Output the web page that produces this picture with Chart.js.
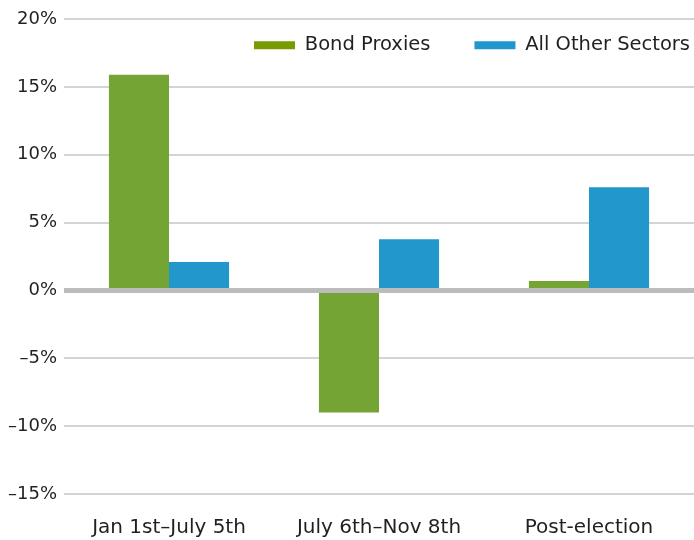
<!DOCTYPE html>
<html>
<head>
<meta charset="utf-8">
<script src="https://cdn.jsdelivr.net/npm/chart.js@4"></script>
<style>
  html, body { margin: 0; padding: 0; background: #fff; }
  #wrap { width: 694px; height: 540px; }
</style>
</head>
<body>
<div id="wrap"><canvas id="proxyChart" width="694" height="540"></canvas></div>
<script>
// Data
const periods = ['Jan 1st\u2013July 5th', 'July 6th\u2013Nov 8th', 'Post-election'];
const bondProxies = [15.9, -9.0, 0.7];
const allOtherSectors = [2.1, 3.77, 7.6];
const seriesNames = ['Bond Proxies', 'All Other Sectors'];
const yTicks = [-15, -10, -5, 0, 5, 10, 15, 20];

const barColors = ['#74a433', '#2197cc'];
const legendColors = ['#7a9a01', '#2196cc'];
const textColor = '#231f20';
const fontFamily = '"DejaVu Sans", sans-serif';

// legend sits inside the plot area, top right, without taking layout space
const legendInside = {
    id: 'legendInside',
    beforeLayout(chart) {
        const lg = chart.legend;
        if (lg && !lg._noHeight) {
            const fit = lg.fit.bind(lg);
            lg.fit = function () { fit(); this.height = 0; };
            lg._noHeight = true;
        }
    },
    afterLayout(chart) {
        const lg = chart.legend;
        lg.top = -8.5; lg.bottom = 70;
        lg.left += 40; lg.right += 40;
    }
};

// thick grey zero line drawn over the bars
const zeroLine = {
    id: 'zeroLine',
    afterDatasetsDraw(chart) {
        const y = chart.scales.y.getPixelForValue(0);
        const area = chart.chartArea;
        const ctx = chart.ctx;
        ctx.save();
        ctx.strokeStyle = '#bcbcbc';
        ctx.lineWidth = 5;
        ctx.beginPath();
        ctx.moveTo(area.left, y);
        ctx.lineTo(area.right, y);
        ctx.stroke();
        ctx.restore();
    }
};

document.addEventListener('DOMContentLoaded', function () {
    const ctx = document.getElementById('proxyChart').getContext('2d');
    new Chart(ctx, {
        type: 'bar',
        data: {
            labels: periods,
            datasets: [
                { label: seriesNames[0], data: bondProxies, backgroundColor: barColors[0] },
                { label: seriesNames[1], data: allOtherSectors, backgroundColor: barColors[1] }
            ]
        },
        options: {
            responsive: false,
            animation: false,
            categoryPercentage: 0.572,
            barPercentage: 1.0,
            layout: { padding: { top: 19, right: 0, bottom: 2, left: 0 } },
            font: { family: fontFamily, size: 18 },
            plugins: {
                legend: {
                    position: 'top',
                    align: 'end',
                    labels: {
                        boxWidth: 41,
                        boxHeight: 8,
                        padding: 44,
                        color: textColor,
                        font: { family: fontFamily, size: 19.5 },
                        generateLabels: function (chart) {
                            return chart.data.datasets.map((ds, i) => ({
                                text: ds.label,
                                fillStyle: legendColors[i],
                                strokeStyle: legendColors[i],
                                lineWidth: 0,
                                fontColor: textColor,
                                datasetIndex: i
                            }));
                        }
                    }
                },
                tooltip: { enabled: false }
            },
            scales: {
                x: {
                    grid: { display: false },
                    border: { display: false },
                    afterFit: function (axis) { axis.height = 44; },
                    ticks: {
                        color: textColor,
                        padding: 14,
                        font: { family: fontFamily, size: 20 }
                    }
                },
                y: {
                    min: yTicks[0],
                    max: yTicks[yTicks.length - 1],
                    afterBuildTicks: function (axis) {
                        axis.ticks = yTicks.map(v => ({ value: v }));
                    },
                    afterFit: function (axis) { axis.width = 64; },
                    grid: { color: '#d4d4d4', lineWidth: 2, drawTicks: false },
                    border: { display: false },
                    ticks: {
                        color: textColor,
                        padding: 7,
                        font: { family: fontFamily, size: 18 },
                        callback: function (v) {
                            return v < 0 ? '\u2013' + Math.abs(v) + '%' : v + '%';
                        }
                    }
                }
            }
        },
        plugins: [legendInside, zeroLine]
    });
});
</script>
</body>
</html>
